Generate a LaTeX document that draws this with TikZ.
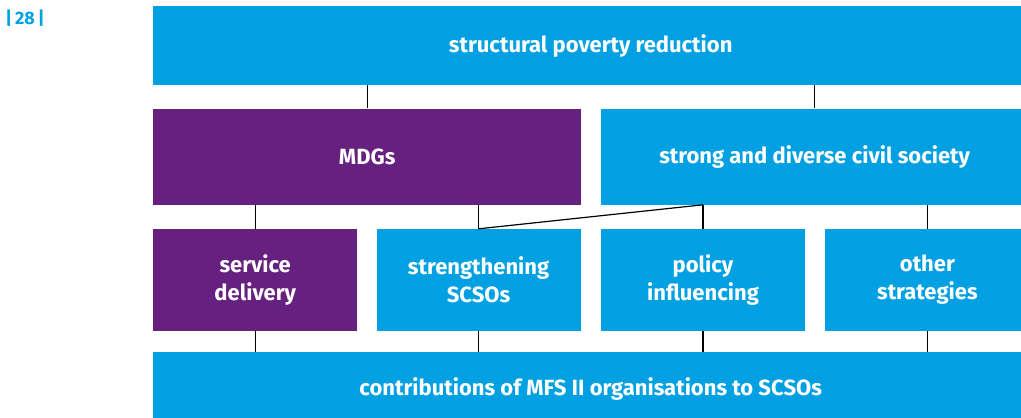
\documentclass[tikz,border=0pt]{standalone}
\usepackage{fontspec}
\setmainfont{Fira Sans}
\usepackage{xcolor}
\definecolor{rblue}{RGB}{0,160,226}
\definecolor{rpurple}{RGB}{102,32,128}
\usetikzlibrary{positioning}
\tikzstyle{BoxBlue} = [
fill=rblue,
text=white,
font=\bfseries\fontsize{22}{28}\selectfont,
align=center,
inner sep=0pt,
anchor=north west]
\tikzstyle{BoxPurple} = [
BoxBlue,
fill=rpurple]
\tikzstyle{Link} = [
line width=1.2pt,
black]

\begin{document}
\begin{tikzpicture}[x=1pt, y=-1pt]
    \useasboundingbox (0,0) rectangle (1021,418);
    \clip (0,0) rectangle (1021,418);

    \node [BoxBlue, minimum width=875pt, minimum height=79pt] at (153,6) (1) {structural poverty reduction};
    \node [BoxPurple, minimum width=428pt, minimum height=96pt, below right=23pt and 0pt of 1.south west] (2) {MDGs};
    \node [BoxBlue, minimum width=428pt, minimum height=96pt, right=19pt of 2] (3) {strong and diverse civil society};
    \node [BoxPurple, minimum width=204pt, minimum height=102pt, below right=24pt and 0pt of 2.south west] (4) {service\\delivery};
    \node [BoxBlue, minimum width=204pt, minimum height=102pt, right=19pt of 4] (5) {strengthening\\SCSOs};
    \node [BoxBlue, minimum width=204pt, minimum height=102pt, right=20pt of 5] (6) {policy\\influencing};
    \node [BoxBlue, minimum width=204pt, minimum height=102pt, right=20pt of 6] (7) {other\\strategies};
    \node [BoxBlue, minimum width=875pt, minimum height=74pt, below right=21pt and 0pt of 4.south west] (8) {contributions of MFS II organisations to SCSOs};
    \node [text=rblue, font=\bfseries\fontsize{18}{18}\selectfont, inner sep=0pt] at (25,18) (9) {|\,28\,|};

    \draw[Link] (1.south -| 2.north) -- (2.north);
    \draw[Link] (1.south -| 3.north) -- (3.north);
    \draw[Link] (2.south -| 4.north) -- (4.north);
    \draw[Link] (2.south -| 5.north) -- (5.north);
    \draw[Link] (3.south -| 6.north) -- (6.north);
    \draw[Link] (3.south -| 7.north) -- (7.north);
    \draw[Link] (3.south -| 6.north) -- (5.north);
    \draw[Link] (4.south) -- (8.north -| 4.south);
    \draw[Link] (5.south) -- (8.north -| 5.south);
    \draw[Link] (6.south) -- (8.north -| 6.south);
    \draw[Link] (7.south) -- (8.north -| 7.south);
\end{tikzpicture}
\end{document}
